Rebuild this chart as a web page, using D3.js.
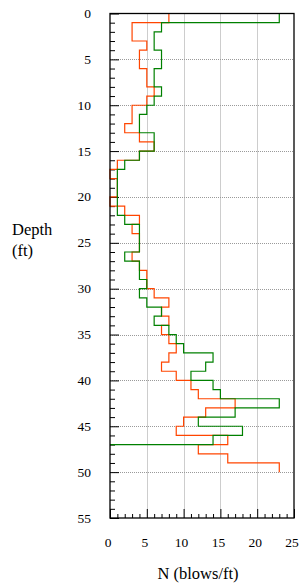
<!DOCTYPE html>
<html>
<head>
<meta charset="utf-8">
<script src="https://cdn.jsdelivr.net/npm/d3@7"></script>
<style>
  body { margin: 0; background: #fff; }
  svg text { font-family: "Liberation Serif", "DejaVu Serif", serif; fill: #000; }
</style>
</head>
<body>
<div id="chart"></div>
<script>
// depth (ft) at which each reading starts; the last entry closes the profile
var depthFt = [0,1,2,3,4,5,6,7,8,9,10,11,12,13,14,15,16,17,18,19,20,
  21,22,23,24,25,26,27,28,29,30,31,32,33,34,35,36,37,38,39,40,
  41,42,43,44,45,46,47,48,49,50];

// SPT blow counts, orange profile
var orangeN = [8,3,3,5,4,4,5,5,6,5, 3,3,2,4,6,4,1,0,1,1,
  0,2,4,3,4,4,3,4,5,5, 6,8,7,8,7,8,9,8,7,9,
  11,12,17,13,10,9,16,12,16,23, 23];

// SPT blow counts, green profile (ends at 47 ft)
var greenN = [23,7,6,6,7,7,6,6,7,6, 5,4,4,6,6,4,2,1,1,1,
  1,1,2,4,4,4,2,4,4,5, 4,5,7,6,8,9,10,14,13,11,
  14,15,23,17,12,18,14, 0];

var xTicks = [0,5,10,15,20,25];
var yTicks = [0,5,10,15,20,25,30,35,40,45,50,55];

var W = 300, H = 583;
var margin = {top: 13.5, right: 6, bottom: 65, left: 110};
var serif = "'Liberation Serif', 'DejaVu Serif', serif";

var svg = d3.select("#chart").append("svg")
  .attr("width", W).attr("height", H)
  .attr("font-family", serif);

var x = d3.scaleLinear().domain([0, 25]).range([margin.left, W - margin.right]);
var y = d3.scaleLinear().domain([0, 55]).range([margin.top, H - margin.bottom]);

// dotted grid
var grid = svg.append("g").attr("stroke", "#9a9a9a")
  .attr("stroke-dasharray", "1,1").attr("stroke-width", 1);
grid.selectAll("line.gx").data([5,10,15,20]).enter().append("line")
  .attr("x1", function(d){ return Math.round(x(d)) + 0.5; })
  .attr("x2", function(d){ return Math.round(x(d)) + 0.5; })
  .attr("y1", y(0)).attr("y2", y(55));
grid.selectAll("line.gy").data([5,10,15,20,25,30,35,40,45,50]).enter().append("line")
  .attr("y1", function(d){ return Math.round(y(d)) + 0.5; })
  .attr("y2", function(d){ return Math.round(y(d)) + 0.5; })
  .attr("x1", x(0)).attr("x2", x(25));

// minor/major ticks pointing inward
var yAxis = d3.axisLeft(y).tickValues(d3.range(0, 56, 1))
  .tickSize(-5).tickFormat("");
svg.append("g").attr("transform", "translate(" + x(0) + ",0)").call(yAxis)
  .call(function(g){
    g.select(".domain").remove();
    g.selectAll(".tick line").attr("x2", function(d){ return d % 5 === 0 ? 9 : 5; })
      .attr("stroke", "#000");
  });
var xAxis = d3.axisBottom(x).tickValues(d3.range(0, 26, 1))
  .tickSize(-4).tickFormat("");
svg.append("g").attr("transform", "translate(0," + y(55) + ")").call(xAxis)
  .call(function(g){
    g.select(".domain").remove();
    g.selectAll(".tick line").attr("y2", function(d){ return d % 5 === 0 ? -9 : -4; })
      .attr("stroke", "#000");
  });

// tick labels
svg.selectAll("text.ylab").data(yTicks).enter().append("text")
  .attr("x", 91).attr("y", function(d){ return y(d) + 4.5; })
  .attr("text-anchor", "end").attr("font-family", serif).style("font-size", "13.5px")
  .text(function(d){ return d; });
svg.selectAll("text.xlab").data(xTicks).enter().append("text")
  .attr("x", function(d){ return x(d) - 2; }).attr("y", 547)
  .attr("text-anchor", "middle").attr("font-family", serif).style("font-size", "13.5px")
  .text(function(d){ return d; });

// axis titles
svg.append("text").attr("x", 198).attr("y", 579).attr("text-anchor", "middle")
  .attr("font-family", serif).style("font-size", "16.5px").text("N (blows/ft)");
var yt = svg.append("text").attr("x", 12).attr("y", 235)
  .attr("font-family", serif).style("font-size", "16.5px");
yt.append("tspan").attr("x", 12).text("Depth");
yt.append("tspan").attr("x", 12).attr("dy", 21).text("(ft)");

// step profiles: vertical at N over each foot, then horizontal to next N
var line = d3.line()
  .x(function(d){ return x(d[0]); })
  .y(function(d){ return y(d[1]); })
  .curve(d3.curveStepBefore);

function profile(vals){
  return vals.map(function(v, i){ return [v, depthFt[i]]; });
}

svg.append("path").datum(profile(orangeN))
  .attr("d", line).attr("fill", "none")
  .attr("stroke", "#ff4500").attr("stroke-width", 1.2);
svg.append("path").datum(profile(greenN))
  .attr("d", line).attr("fill", "none")
  .attr("stroke", "#008000").attr("stroke-width", 1.2);

// frame
svg.append("rect").attr("x", x(0)).attr("y", y(0))
  .attr("width", x(25) - x(0)).attr("height", y(55) - y(0))
  .attr("fill", "none").attr("stroke", "#000").attr("stroke-width", 1.3);
</script>
</body>
</html>
